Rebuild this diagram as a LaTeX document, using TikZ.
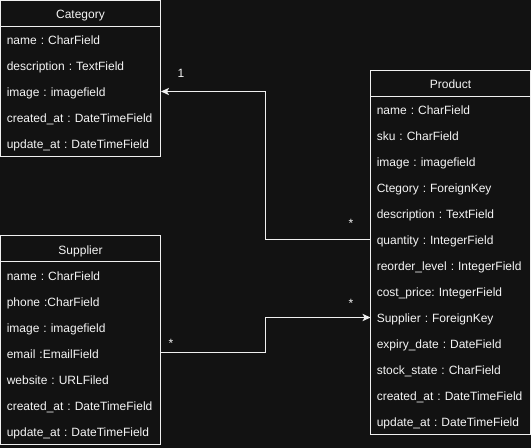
\documentclass[tikz,border=0pt]{standalone}
\usepackage{fontspec}
\setmainfont{Liberation Sans}
\usepackage{tikz}
\usetikzlibrary{arrows.meta}
\definecolor{bgdark}{RGB}{18,18,18}
\definecolor{edge}{RGB}{240,240,240}
\definecolor{fgtext}{RGB}{245,245,245}
\frenchspacing

\begin{document}
\begin{tikzpicture}[x=0.75pt,y=0.75pt,yscale=-1,xscale=1,
  title/.style={draw=edge, line width=0.75pt, fill=bgdark, minimum width=120pt, minimum height=19.5pt, text height=8.2pt, text depth=0pt, inner sep=0pt, font=\fontsize{9}{10}\selectfont, text=fgtext},
  field/.style={anchor=west, minimum width=120pt, minimum height=19.5pt, text width=111pt, text height=8.2pt, text depth=0pt, inner xsep=4.5pt, inner ysep=0pt, align=left, font=\fontsize{9}{10}\selectfont, text=fgtext},
  box/.style={draw=edge, line width=0.75pt},
  assoc/.style={draw=edge, line width=0.75pt, -{Stealth[length=6pt,width=5.5pt,inset=1.5pt]}},
  mult/.style={anchor=base, inner sep=0pt, font=\fontsize{9}{10}\selectfont, text=fgtext}]
%set diagram size 531 x 448
\fill [bgdark] (0,0) rectangle (531,448);
\useasboundingbox (0,0) rectangle (531,448);

%Class [Category]
\draw [box] (0.5,0.5) rectangle (160.5,156.5);
\node [title] (cat-title) at (80.5,13.5) {Category};
\node [field] (cat-name) at (0.5,39.5) {name : CharField};
\node [field] (cat-desc) at (0.5,65.5) {description : TextField};
\node [field] (cat-image) at (0.5,91.5) {image : imagefield};
\node [field] (cat-created) at (0.5,117.5) {created\_at : DateTimeField};
\node [field] (cat-update) at (0.5,143.5) {update\_at : DateTimeField};

%Class [Supplier]
\draw [box] (0.5,236) rectangle (160.5,444);
\node [title] (sup-title) at (80.5,249) {Supplier};
\node [field] (sup-name) at (0.5,275) {name : CharField};
\node [field] (sup-phone) at (0.5,301) {phone :CharField};
\node [field] (sup-image) at (0.5,327) {image : imagefield};
\node [field] (sup-email) at (0.5,353) {email :EmailField};
\node [field] (sup-website) at (0.5,379) {website : URLFiled};
\node [field] (sup-created) at (0.5,405) {created\_at : DateTimeField};
\node [field] (sup-update) at (0.5,431) {update\_at : DateTimeField};

%Class [Product]
\draw [box] (370.5,70.5) rectangle (530.5,434.5);
\node [title] (prod-title) at (450.5,83.5) {Product};
\node [field] (prod-name) at (370.5,109.5) {name : CharField};
\node [field] (prod-sku) at (370.5,135.5) {sku : CharField};
\node [field] (prod-image) at (370.5,161.5) {image : imagefield};
\node [field] (prod-category) at (370.5,187.5) {Ctegory : ForeignKey};
\node [field] (prod-desc) at (370.5,213.5) {description : TextField};
\node [field] (prod-quantity) at (370.5,239.5) {quantity : IntegerField};
\node [field] (prod-reorder) at (370.5,265.5) {reorder\_level : IntegerField};
\node [field] (prod-cost) at (370.5,291.5) {cost\_price: IntegerField};
\node [field] (prod-supplier) at (370.5,317.5) {Supplier : ForeignKey};
\node [field] (prod-expiry) at (370.5,343.5) {expiry\_date : DateField};
\node [field] (prod-stock) at (370.5,369.5) {stock\_state : CharField};
\node [field] (prod-created) at (370.5,395.5) {created\_at : DateTimeField};
\node [field] (prod-update) at (370.5,421.5) {update\_at : DateTimeField};

%Associations
\coordinate (elbow) at (265.5,0);
\draw [assoc] (prod-quantity.west) -| (elbow |- cat-image.east) -- (cat-image.east);
\draw [assoc] (sup-email.east) -| (elbow |- prod-supplier.west) -- (prod-supplier.west);

% Multiplicities
\node [mult] (mult-cat) at (181,78) {1};
\node [mult] (mult-quantity) at (351,228) {*};
\node [mult] (mult-supplier) at (351,307.5) {*};
\node [mult] (mult-email) at (171,347.5) {*};

\end{tikzpicture}
\end{document}
